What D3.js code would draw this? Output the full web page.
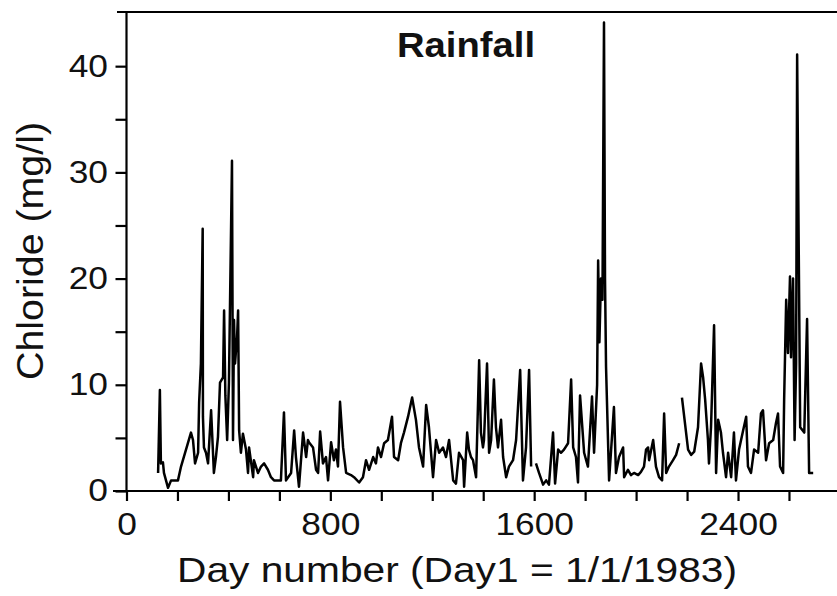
<!DOCTYPE html>
<html>
<head>
<meta charset="utf-8">
<script src="https://cdn.jsdelivr.net/npm/d3@7"></script>
<style>
  html, body { margin: 0; padding: 0; background: #fff; }
  svg { display: block; }
  text { font-family: "Liberation Sans", Arial, Helvetica, sans-serif; fill: #111; }
</style>
</head>
<body>
<div id="chart"></div>
<script>
// day number (Day1 = 1/1/1983) and chloride in mg/l; null = gap in record
const days = [124,131,135,143,147,163,175,202,214,241,253,261,269,281,285,292,299,300,304,312,320,332,343,351,359,367,379,383,388,395,402,414,418,422,426,430,434,438,442,449,457,469,477,481,497,500,516,528,540,555,567,579,606,618,626,646,658,665,677,693,705,712,716,732,744,752,760,771,783,791,803,814,822,830,838,850,862,881,893,913,928,940,952,968,979,987,999,1011,1026,1042,1050,1066,1077,1089,1105,1121,1136,1148,1164,1176,1187,1203,1215,1227,1242,1254,1266,1282,1293,1305,1321,1325,1337,1344,1352,1360,1372,1384,1391,1399,1403,1415,1423,1431,1442,1450,1458,1470,1478,1490,1501,1517,1529,1545,1556,1568,1580,1588,1598,1607,1619,1635,1647,1658,1674,1682,1694,1705,1717,1733,1745,1753,1764,1772,1780,1796,1811,1827,1835,1847,1851,1856,1862,1868,1874,1878,1882,1894,1913,1921,1933,1949,1953,1968,1980,1992,2008,2019,2031,2039,2047,2051,2067,2078,2090,2102,2110,2118,2129,2145,2157,2169,2175,2180,2204,2216,2228,2243,2255,2263,2271,2282,2286,2294,2306,2314,2322,2333,2341,2353,2361,2373,2384,2392,2404,2420,2432,2439,2451,2463,2479,2490,2498,2510,2522,2538,2549,2557,2565,2577,2581,2589,2596,2604,2608,2616,2622,2628,2632,2644,2660,2671,2679,2695];
const chloride = [1.7,9.5,2.6,2.7,1.7,0.3,1.0,1.0,2.3,4.5,5.5,4.8,2.6,3.6,8.3,12.0,24.7,7.0,4.1,3.6,2.6,7.6,1.7,3.2,5.1,10.2,10.7,17.0,9.0,4.8,10.2,31.1,4.8,16.1,12.0,13.3,14.5,17.0,5.7,3.6,5.4,3.9,1.7,4.1,1.3,2.9,1.7,2.3,2.6,2.0,1.3,1.0,1.0,7.4,1.0,1.7,5.7,3.2,0.4,5.5,3.2,4.8,4.6,4.1,2.0,1.7,5.6,2.6,3.2,1.0,4.6,2.9,3.9,2.3,8.4,4.1,1.7,1.5,1.3,0.8,1.3,2.9,2.0,3.2,2.6,4.1,3.2,4.5,4.8,7.0,3.2,2.9,4.5,5.5,7.0,8.8,6.7,4.1,2.3,8.1,6.0,1.3,4.8,3.6,4.1,3.2,4.8,1.0,0.7,3.6,2.9,0.4,5.5,3.9,3.2,2.9,1.3,12.3,5.5,4.1,4.8,12.0,3.6,4.8,10.5,6.0,4.1,6.7,3.2,1.3,2.3,2.9,4.8,11.4,1.0,4.1,11.4,2.3,null,2.6,1.7,0.6,1.0,0.6,5.5,0.7,3.9,3.6,3.9,4.5,10.5,4.1,3.2,0.8,9.0,3.6,2.3,8.9,3.6,10.0,21.7,14.0,20.0,18.0,44.1,20.0,11.7,1.0,7.9,1.7,3.2,4.1,1.3,2.0,1.5,1.7,1.5,1.8,2.3,3.9,4.1,2.9,4.8,2.3,1.3,1.0,7.3,1.7,2.3,2.9,3.4,4.5,null,8.8,3.9,3.4,3.7,6.0,12.0,10.7,8.6,4.8,2.6,6.0,15.6,1.7,6.7,5.5,3.6,1.3,3.6,1.3,5.5,1.0,3.9,5.7,7.0,2.3,1.7,3.9,3.6,7.3,7.6,2.9,4.5,4.8,6.4,7.3,2.3,1.7,8.6,18.0,13.0,20.2,12.6,20.0,4.8,12.0,41.1,6.0,5.5,16.2,1.7,1.7];

const xTickValues = [0,200,400,600,800,1000,1200,1400,1600,1800,2000,2200,2400,2600];
const xTickLabels = [0,800,1600,2400];
const yTickValues = [0,5,10,15,20,25,30,35,40];
const yTickLabels = [0,10,20,30,40];

const width = 837, height = 596;
const margin = { top: 12, left: 126.5, bottom: 105 };
const plotBottom = height - margin.bottom;
const stretch = 1.14;

const x = d3.scaleLinear().domain([0, 2800]).range([margin.left, margin.left + 2800 * 0.2548]);
const y = d3.scaleLinear().domain([0, 45.1]).range([plotBottom, margin.top]);

const svg = d3.select('#chart').append('svg')
  .attr('width', width)
  .attr('height', height);

// frame: left axis, bottom axis, top rule (no right edge in view)
svg.append('line').attr('x1', margin.left).attr('x2', margin.left).attr('y1', margin.top).attr('y2', plotBottom)
  .attr('stroke', '#000').attr('stroke-width', 2.2);
svg.append('line').attr('x1', 113).attr('x2', width).attr('y1', plotBottom).attr('y2', plotBottom)
  .attr('stroke', '#000').attr('stroke-width', 2.2);
svg.append('line').attr('x1', 117).attr('x2', width).attr('y1', margin.top).attr('y2', margin.top)
  .attr('stroke', '#000').attr('stroke-width', 2);

const xAxis = d3.axisBottom(x)
  .tickValues(xTickValues)
  .tickSize(10)
  .tickSizeOuter(0)
  .tickPadding(12)
  .tickFormat(d => xTickLabels.includes(d) ? d : '');

const gx = svg.append('g')
  .attr('transform', `translate(0,${plotBottom})`)
  .call(xAxis);
gx.select('.domain').remove();
gx.selectAll('.tick line').attr('stroke', '#000').attr('stroke-width', 2.2);
gx.selectAll('.tick text')
  .attr('font-size', 31)
  .attr('fill', '#111')
  .attr('transform', `scale(${stretch},1)`);

const yAxis = d3.axisLeft(y)
  .tickValues(yTickValues)
  .tickSize(11)
  .tickSizeOuter(0)
  .tickFormat(d => yTickLabels.includes(d) ? d : '');

const gy = svg.append('g')
  .attr('transform', `translate(${margin.left},0)`)
  .call(yAxis);
gy.select('.domain').remove();
gy.selectAll('.tick line').attr('stroke', '#000').attr('stroke-width', 2.2);
gy.selectAll('.tick text')
  .attr('font-size', 31)
  .attr('fill', '#111')
  .attr('x', -18.5 / stretch)
  .attr('transform', `scale(${stretch},1)`);

// the series
const series = days.map((d, i) => ({ day: d, v: chloride[i] }));
const line = d3.line()
  .defined(d => d.v != null)
  .x(d => x(d.day))
  .y(d => y(d.v));

svg.append('path')
  .datum(series)
  .attr('fill', 'none')
  .attr('stroke', '#000')
  .attr('stroke-width', 2.5)
  .attr('stroke-linejoin', 'round')
  .attr('d', line);

// titles
svg.append('text')
  .attr('x', 397)
  .attr('y', 57)
  .attr('font-size', 35)
  .attr('font-weight', 'bold')
  .attr('textLength', 138)
  .attr('lengthAdjust', 'spacingAndGlyphs')
  .text('Rainfall');

svg.append('text')
  .attr('x', 457)
  .attr('y', 582)
  .attr('text-anchor', 'middle')
  .attr('font-size', 35)
  .attr('textLength', 560)
  .attr('lengthAdjust', 'spacingAndGlyphs')
  .text('Day number (Day1 = 1/1/1983)');

svg.append('text')
  .attr('transform', 'translate(43,251) rotate(-90)')
  .attr('text-anchor', 'middle')
  .attr('font-size', 37)
  .attr('textLength', 258)
  .attr('lengthAdjust', 'spacingAndGlyphs')
  .text('Chloride (mg/l)');
</script>
</body>
</html>
